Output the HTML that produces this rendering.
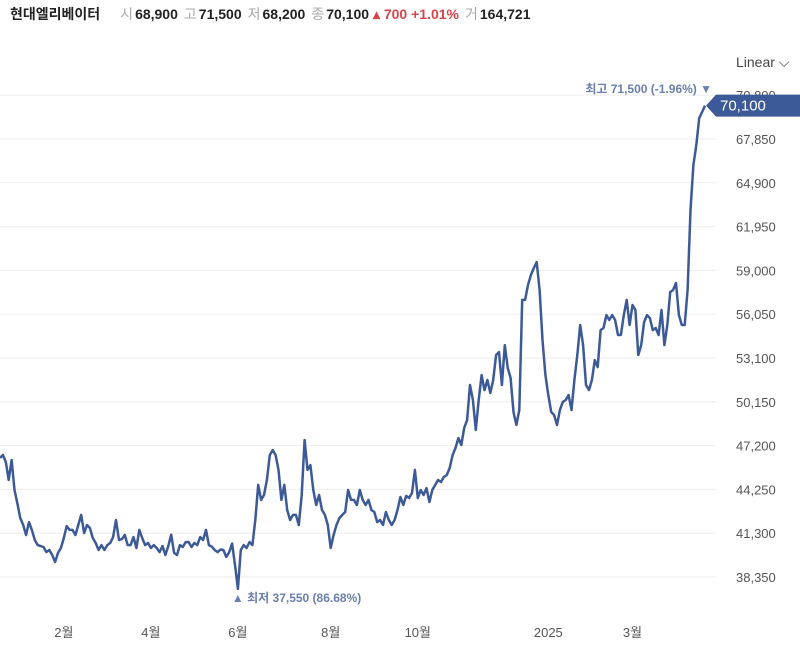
<!DOCTYPE html>
<html><head><meta charset="utf-8"><style>
body{margin:0;background:#fff;width:800px;height:652px;overflow:hidden;font-family:"Liberation Sans","Noto Sans CJK KR",sans-serif}
svg{position:absolute;left:0;top:0}
.hdr{position:absolute;left:10px;top:4px;font-size:14px;color:#222;white-space:nowrap}
.hdr b{font-weight:bold;margin-right:14px}
.hdr .l{color:#aaa;margin:0 2px 0 6px}
.hdr .v{font-weight:bold}
.hdr .up{color:#d9434a;font-weight:bold}
</style></head><body>
<div class="hdr"><b>현대엘리베이터</b><span class="l">시</span><span class="v">68,900</span><span class="l">고</span><span class="v">71,500</span><span class="l">저</span><span class="v">68,200</span><span class="l">종</span><span class="v">70,100</span> <span class="up">▴ 700 +1.01%</span><span class="l">거</span><span class="v">164,721</span></div>
<svg id="chart" width="800" height="652"></svg>
<script>
const prices=[46370,46570,46100,44880,46230,44210,43300,42320,41850,41180,42050,41500,40840,40500,40440,40370,40030,40170,39830,39360,39970,40300,40980,41780,41520,41520,41180,41850,42530,41310,41850,41650,40980,40640,40170,40500,40170,40500,40640,41040,42190,40840,40900,41180,40500,40500,41040,40300,41520,40980,40500,40640,40300,40500,40300,40030,40440,39830,40440,41200,39970,39830,40500,40370,40700,40710,40370,40640,40500,41040,40840,41520,40500,40400,40170,40030,40200,40170,39700,40030,40600,39160,37550,40170,40500,40300,40710,40500,42190,44550,43540,43870,44880,46570,46900,46570,45560,43540,44550,42860,42190,42530,42530,41850,43870,47580,45560,45890,44210,43200,43870,42860,42530,41850,40300,41180,41850,42320,42530,42730,44210,43540,43540,43200,44210,43540,43200,43540,42860,42730,42050,42190,41850,42730,42190,41850,42190,42860,43740,43200,43810,43670,44010,45560,43670,44210,43870,44340,43400,44210,44550,44880,44750,45090,45220,45690,46570,47040,47710,47240,48390,48920,51280,50270,48250,50270,51950,50940,51620,50740,51620,53300,53500,51280,53970,52430,51750,49460,48590,49600,57010,57010,58020,58690,59160,59560,57680,54310,51950,50610,49460,49260,48590,49600,50140,50270,50610,49600,51620,53300,55320,53970,51280,50940,51620,52960,52490,54980,55120,55990,55660,55990,55660,54650,54650,55990,57010,55320,56670,56330,53300,53970,55520,55990,55790,54980,55120,54650,56330,53970,55320,57540,57680,58150,55990,55320,55320,57680,63070,66100,67440,69260,69670,70100];
const yTicks=[38350,41300,44250,47200,50150,53100,56050,59000,61950,64900,67850,70800];
const xTickLabels=["2월","4월","6월","8월","10월","2025","3월"];
const xTickFrac=[0.091,0.213,0.338,0.471,0.593,0.777,0.896];
const lastPrice=70100, highLabel="최고 71,500 (-1.96%) ▼", lowLabel="▲ 최저 37,550 (86.68%)";
const NS="http://www.w3.org/2000/svg",svg=document.getElementById('chart');
const X0=0,X1=705,Y0=38350,YP0=577,PXPER=43.8/2950;
const xs=i=>X0+(X1-X0)*i/(prices.length-1);
const ys=v=>YP0-(v-Y0)*PXPER;
function mk(t,a){const e=document.createElementNS(NS,t);for(const k in a)e.setAttribute(k,a[k]);svg.appendChild(e);return e;}
yTicks.forEach(v=>{
 const g=mk('line',{x1:0,x2:716,y1:ys(v),y2:ys(v),stroke:'#eeeeee','stroke-width':1});
 
 
 const t=mk('text',{x:736,y:ys(v)+5,'font-size':13,fill:'#555'});
 t.textContent=v.toLocaleString('en-US');
 
 
});
xTickLabels.forEach((l,i)=>{
 const idx=Math.round(xTickFrac[i]*(prices.length-1));
 const t=mk('text',{x:xs(idx),y:637,'font-size':13,fill:'#555','text-anchor':'middle'});
 t.textContent=l;
 
 
});
const p=mk('path',{d:prices.map((v,i)=>(i?'L':'M')+xs(i).toFixed(1)+' '+ys(v).toFixed(1)).join(''),fill:'none',stroke:'#3d5a98','stroke-width':2.5,'stroke-linejoin':'round'});


const ly=ys(lastPrice);
const tag=mk('polygon',{points:`706,${ly} 716,${ly-11} 800,${ly-11} 800,${ly+11} 716,${ly+11}`,fill:'#3d5a98'});


const tt=mk('text',{x:720,y:ly+5,'font-size':15,fill:'#fff'});
tt.textContent=lastPrice.toLocaleString('en-US');


const hi=mk('text',{x:712,y:93,'font-size':12,fill:'#6a7fb0','text-anchor':'end','font-weight':'bold'});
hi.textContent=highLabel;


let li=0;prices.forEach((v,i)=>{if(v<prices[li])li=i;});
const lo=mk('text',{x:xs(li)-6,y:602,'font-size':12,fill:'#6a7fb0','font-weight':'bold'});
lo.textContent=lowLabel;


const sc=mk('text',{x:736,y:67,'font-size':14,fill:'#444'});
sc.textContent='Linear ⌵';


</script>
</body></html>
